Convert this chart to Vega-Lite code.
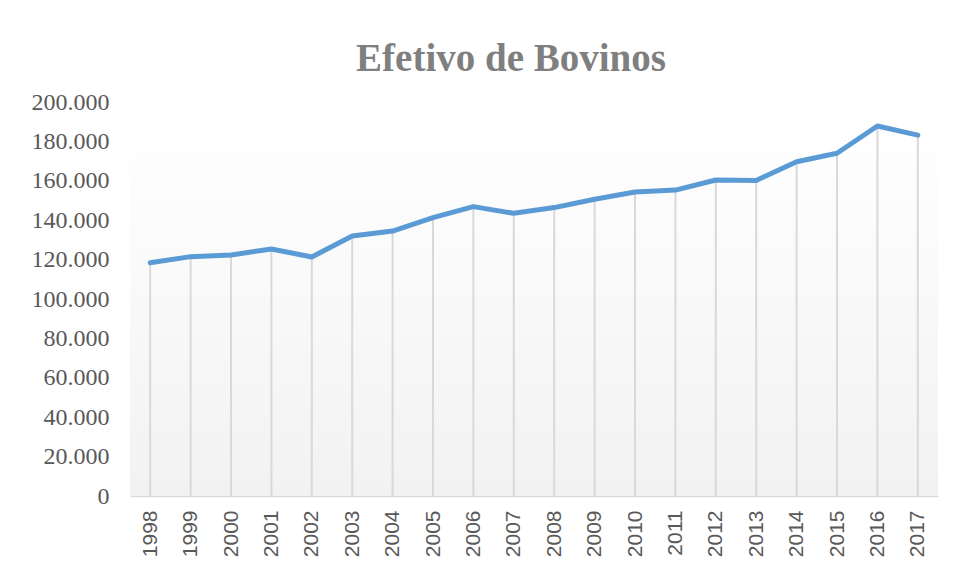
{
  "$schema": "https://vega.github.io/schema/vega-lite/v6.json",
  "autosize": "none",
  "width": 808,
  "height": 394,
  "padding": {"left": 130, "top": 102, "right": 20, "bottom": 87},
  "background": "white",
  "config": {
    "view": {"stroke": null},
    "axis": {"labelOverlap": false},
    "axisY": {"labelOverlap": false, "labelBound": false, "labelSeparation": -60},
    "locale": {"number": {"decimal": ",", "thousands": ".", "grouping": [3], "currency": ["R$", ""]}}
  },
  "title": {
    "text": "Efetivo de Bovinos",
    "font": "Liberation Serif",
    "fontSize": 39,
    "fontWeight": "bold",
    "color": "#7f7f7f",
    "anchor": "middle",
    "dx": -23,
    "offset": 11
  },
  "data": {
    "values": [
      {"year": "1998", "value": 118400},
      {"year": "1999", "value": 121500},
      {"year": "2000", "value": 122300},
      {"year": "2001", "value": 125400},
      {"year": "2002", "value": 121300},
      {"year": "2003", "value": 132000},
      {"year": "2004", "value": 134500},
      {"year": "2005", "value": 141300},
      {"year": "2006", "value": 146900},
      {"year": "2007", "value": 143500},
      {"year": "2008", "value": 146400},
      {"year": "2009", "value": 150600},
      {"year": "2010", "value": 154300},
      {"year": "2011", "value": 155300},
      {"year": "2012", "value": 160400},
      {"year": "2013", "value": 160200},
      {"year": "2014", "value": 169700},
      {"year": "2015", "value": 174000},
      {"year": "2016", "value": 187800},
      {"year": "2017", "value": 183200}
    ]
  },
  "layer": [
    {
      "data": {"values": [{"lo": 0, "hi": 175000}]},
      "mark": {
        "type": "rect",
        "color": {
          "gradient": "linear",
          "x1": 0, "y1": 0, "x2": 0, "y2": 1,
          "stops": [
            {"offset": 0, "color": "#fefefe"},
            {"offset": 1, "color": "#f2f2f2"}
          ]
        }
      },
      "encoding": {
        "x": {"value": 0},
        "x2": {"value": "width"},
        "y": {
          "field": "lo",
          "type": "quantitative",
          "scale": {"domain": [0, 200000], "nice": false},
          "axis": {
            "title": null,
            "values": [0, 20000, 40000, 60000, 80000, 100000, 120000, 140000, 160000, 180000, 200000],
            "tickCount": 11,
            "format": ",d",
            "labelFont": "Liberation Serif",
            "labelFontSize": 24,
            "labelColor": "#595959",
            "labelPadding": 21,
            "labelOverlap": false,
            "labelSeparation": -60,
            "ticks": false,
            "domain": false,
            "grid": false
          }
        },
        "y2": {"field": "hi"}
      }
    },
    {
      "mark": {"type": "rule", "color": "#d9d9d9", "strokeWidth": 2},
      "encoding": {
        "x": {"field": "year", "type": "ordinal"},
        "y": {"field": "value", "type": "quantitative"},
        "y2": {"datum": 0}
      }
    },
    {
      "mark": {"type": "line", "color": "#5b9bd5", "strokeWidth": 5, "strokeCap": "round", "strokeJoin": "round"},
      "encoding": {
        "x": {
          "field": "year",
          "type": "ordinal",
          "scale": {"type": "point", "padding": 0.5},
          "axis": {
            "title": null,
            "labelAngle": -90,
            "labelAlign": "right",
            "labelBaseline": "middle",
            "labelFont": "Liberation Sans",
            "labelFontSize": 21,
            "labelColor": "#595959",
            "labelPadding": 14,
            "labelOverlap": false,
            "ticks": false,
            "domainColor": "#d9d9d9",
            "domainWidth": 1.5,
            "grid": false
          }
        },
        "y": {"field": "value", "type": "quantitative"}
      }
    }
  ]
}
